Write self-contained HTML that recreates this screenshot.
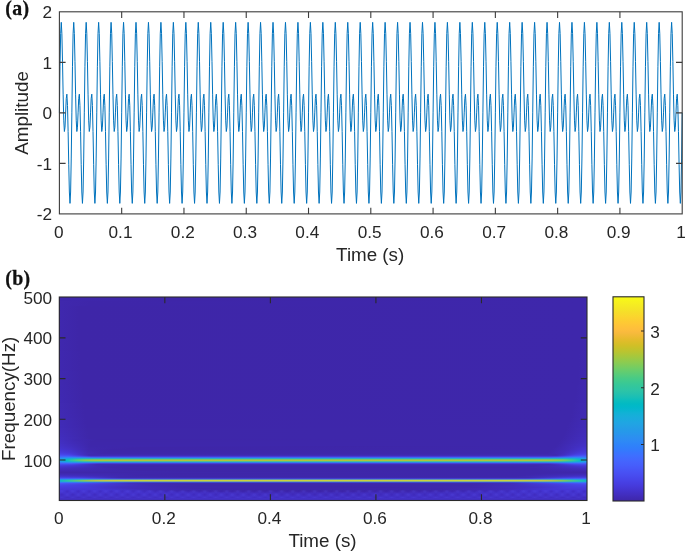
<!DOCTYPE html>
<html lang="en"><head><meta charset="utf-8"><title>Signal and time-frequency representation</title>
<style>html,body{margin:0;padding:0;background:#fff}svg{display:block}.t{font-family:"Liberation Sans",Arial,Helvetica,sans-serif;fill:#262626}.p{font-family:"Liberation Serif","Times New Roman",serif;font-weight:bold;fill:#111}</style></head><body>
<svg width="685" height="552" viewBox="0 0 685 552">
<rect width="685" height="552" fill="#fff"/>
<polyline points="59.40,112.85 60.02,66.72 60.65,33.70 61.27,22.32 61.89,33.70 62.51,61.42 63.14,94.17 63.76,120.16 64.38,131.53 65.01,127.19 65.63,112.85 66.25,98.51 66.87,94.17 67.50,105.54 68.12,131.53 68.74,164.28 69.36,192.00 69.99,203.38 70.61,192.00 71.23,158.98 71.86,112.85 72.48,66.72 73.10,33.70 73.72,22.32 74.35,33.70 74.97,61.42 75.59,94.17 76.22,120.16 76.84,131.53 77.46,127.19 78.08,112.85 78.71,98.51 79.33,94.17 79.95,105.54 80.58,131.53 81.20,164.28 81.82,192.00 82.44,203.38 83.07,192.00 83.69,158.98 84.31,112.85 84.93,66.72 85.56,33.70 86.18,22.32 86.80,33.70 87.43,61.42 88.05,94.17 88.67,120.16 89.29,131.53 89.92,127.19 90.54,112.85 91.16,98.51 91.79,94.17 92.41,105.54 93.03,131.53 93.65,164.28 94.28,192.00 94.90,203.38 95.52,192.00 96.15,158.98 96.77,112.85 97.39,66.72 98.01,33.70 98.64,22.32 99.26,33.70 99.88,61.42 100.50,94.17 101.13,120.16 101.75,131.53 102.37,127.19 103.00,112.85 103.62,98.51 104.24,94.17 104.86,105.54 105.49,131.53 106.11,164.28 106.73,192.00 107.36,203.38 107.98,192.00 108.60,158.98 109.22,112.85 109.85,66.72 110.47,33.70 111.09,22.32 111.72,33.70 112.34,61.42 112.96,94.17 113.58,120.16 114.21,131.53 114.83,127.19 115.45,112.85 116.07,98.51 116.70,94.17 117.32,105.54 117.94,131.53 118.57,164.28 119.19,192.00 119.81,203.38 120.43,192.00 121.06,158.98 121.68,112.85 122.30,66.72 122.93,33.70 123.55,22.32 124.17,33.70 124.79,61.42 125.42,94.17 126.04,120.16 126.66,131.53 127.29,127.19 127.91,112.85 128.53,98.51 129.15,94.17 129.78,105.54 130.40,131.53 131.02,164.28 131.64,192.00 132.27,203.38 132.89,192.00 133.51,158.98 134.14,112.85 134.76,66.72 135.38,33.70 136.00,22.32 136.63,33.70 137.25,61.42 137.87,94.17 138.50,120.16 139.12,131.53 139.74,127.19 140.36,112.85 140.99,98.51 141.61,94.17 142.23,105.54 142.86,131.53 143.48,164.28 144.10,192.00 144.72,203.38 145.35,192.00 145.97,158.98 146.59,112.85 147.21,66.72 147.84,33.70 148.46,22.32 149.08,33.70 149.71,61.42 150.33,94.17 150.95,120.16 151.57,131.53 152.20,127.19 152.82,112.85 153.44,98.51 154.07,94.17 154.69,105.54 155.31,131.53 155.93,164.28 156.56,192.00 157.18,203.38 157.80,192.00 158.43,158.98 159.05,112.85 159.67,66.72 160.29,33.70 160.92,22.32 161.54,33.70 162.16,61.42 162.78,94.17 163.41,120.16 164.03,131.53 164.65,127.19 165.28,112.85 165.90,98.51 166.52,94.17 167.14,105.54 167.77,131.53 168.39,164.28 169.01,192.00 169.64,203.38 170.26,192.00 170.88,158.98 171.50,112.85 172.13,66.72 172.75,33.70 173.37,22.32 174.00,33.70 174.62,61.42 175.24,94.17 175.86,120.16 176.49,131.53 177.11,127.19 177.73,112.85 178.35,98.51 178.98,94.17 179.60,105.54 180.22,131.53 180.85,164.28 181.47,192.00 182.09,203.38 182.71,192.00 183.34,158.98 183.96,112.85 184.58,66.72 185.21,33.70 185.83,22.32 186.45,33.70 187.07,61.42 187.70,94.17 188.32,120.16 188.94,131.53 189.57,127.19 190.19,112.85 190.81,98.51 191.43,94.17 192.06,105.54 192.68,131.53 193.30,164.28 193.92,192.00 194.55,203.38 195.17,192.00 195.79,158.98 196.42,112.85 197.04,66.72 197.66,33.70 198.28,22.32 198.91,33.70 199.53,61.42 200.15,94.17 200.78,120.16 201.40,131.53 202.02,127.19 202.64,112.85 203.27,98.51 203.89,94.17 204.51,105.54 205.14,131.53 205.76,164.28 206.38,192.00 207.00,203.38 207.63,192.00 208.25,158.98 208.87,112.85 209.49,66.72 210.12,33.70 210.74,22.32 211.36,33.70 211.99,61.42 212.61,94.17 213.23,120.16 213.85,131.53 214.48,127.19 215.10,112.85 215.72,98.51 216.35,94.17 216.97,105.54 217.59,131.53 218.21,164.28 218.84,192.00 219.46,203.38 220.08,192.00 220.71,158.98 221.33,112.85 221.95,66.72 222.57,33.70 223.20,22.32 223.82,33.70 224.44,61.42 225.06,94.17 225.69,120.16 226.31,131.53 226.93,127.19 227.56,112.85 228.18,98.51 228.80,94.17 229.42,105.54 230.05,131.53 230.67,164.28 231.29,192.00 231.92,203.38 232.54,192.00 233.16,158.98 233.78,112.85 234.41,66.72 235.03,33.70 235.65,22.32 236.28,33.70 236.90,61.42 237.52,94.17 238.14,120.16 238.77,131.53 239.39,127.19 240.01,112.85 240.63,98.51 241.26,94.17 241.88,105.54 242.50,131.53 243.13,164.28 243.75,192.00 244.37,203.38 244.99,192.00 245.62,158.98 246.24,112.85 246.86,66.72 247.49,33.70 248.11,22.32 248.73,33.70 249.35,61.42 249.98,94.17 250.60,120.16 251.22,131.53 251.85,127.19 252.47,112.85 253.09,98.51 253.71,94.17 254.34,105.54 254.96,131.53 255.58,164.28 256.20,192.00 256.83,203.38 257.45,192.00 258.07,158.98 258.70,112.85 259.32,66.72 259.94,33.70 260.56,22.32 261.19,33.70 261.81,61.42 262.43,94.17 263.06,120.16 263.68,131.53 264.30,127.19 264.92,112.85 265.55,98.51 266.17,94.17 266.79,105.54 267.42,131.53 268.04,164.28 268.66,192.00 269.28,203.38 269.91,192.00 270.53,158.98 271.15,112.85 271.77,66.72 272.40,33.70 273.02,22.32 273.64,33.70 274.27,61.42 274.89,94.17 275.51,120.16 276.13,131.53 276.76,127.19 277.38,112.85 278.00,98.51 278.63,94.17 279.25,105.54 279.87,131.53 280.49,164.28 281.12,192.00 281.74,203.38 282.36,192.00 282.99,158.98 283.61,112.85 284.23,66.72 284.85,33.70 285.48,22.32 286.10,33.70 286.72,61.42 287.34,94.17 287.97,120.16 288.59,131.53 289.21,127.19 289.84,112.85 290.46,98.51 291.08,94.17 291.70,105.54 292.33,131.53 292.95,164.28 293.57,192.00 294.20,203.38 294.82,192.00 295.44,158.98 296.06,112.85 296.69,66.72 297.31,33.70 297.93,22.32 298.56,33.70 299.18,61.42 299.80,94.17 300.42,120.16 301.05,131.53 301.67,127.19 302.29,112.85 302.91,98.51 303.54,94.17 304.16,105.54 304.78,131.53 305.41,164.28 306.03,192.00 306.65,203.38 307.27,192.00 307.90,158.98 308.52,112.85 309.14,66.72 309.77,33.70 310.39,22.32 311.01,33.70 311.63,61.42 312.26,94.17 312.88,120.16 313.50,131.53 314.13,127.19 314.75,112.85 315.37,98.51 315.99,94.17 316.62,105.54 317.24,131.53 317.86,164.28 318.48,192.00 319.11,203.38 319.73,192.00 320.35,158.98 320.98,112.85 321.60,66.72 322.22,33.70 322.84,22.32 323.47,33.70 324.09,61.42 324.71,94.17 325.34,120.16 325.96,131.53 326.58,127.19 327.20,112.85 327.83,98.51 328.45,94.17 329.07,105.54 329.70,131.53 330.32,164.28 330.94,192.00 331.56,203.38 332.19,192.00 332.81,158.98 333.43,112.85 334.05,66.72 334.68,33.70 335.30,22.32 335.92,33.70 336.55,61.42 337.17,94.17 337.79,120.16 338.41,131.53 339.04,127.19 339.66,112.85 340.28,98.51 340.91,94.17 341.53,105.54 342.15,131.53 342.77,164.28 343.40,192.00 344.02,203.38 344.64,192.00 345.27,158.98 345.89,112.85 346.51,66.72 347.13,33.70 347.76,22.32 348.38,33.70 349.00,61.42 349.62,94.17 350.25,120.16 350.87,131.53 351.49,127.19 352.12,112.85 352.74,98.51 353.36,94.17 353.98,105.54 354.61,131.53 355.23,164.28 355.85,192.00 356.48,203.38 357.10,192.00 357.72,158.98 358.34,112.85 358.97,66.72 359.59,33.70 360.21,22.32 360.84,33.70 361.46,61.42 362.08,94.17 362.70,120.16 363.33,131.53 363.95,127.19 364.57,112.85 365.19,98.51 365.82,94.17 366.44,105.54 367.06,131.53 367.69,164.28 368.31,192.00 368.93,203.38 369.55,192.00 370.18,158.98 370.80,112.85 371.42,66.72 372.05,33.70 372.67,22.32 373.29,33.70 373.91,61.42 374.54,94.17 375.16,120.16 375.78,131.53 376.41,127.19 377.03,112.85 377.65,98.51 378.27,94.17 378.90,105.54 379.52,131.53 380.14,164.28 380.76,192.00 381.39,203.38 382.01,192.00 382.63,158.98 383.26,112.85 383.88,66.72 384.50,33.70 385.12,22.32 385.75,33.70 386.37,61.42 386.99,94.17 387.62,120.16 388.24,131.53 388.86,127.19 389.48,112.85 390.11,98.51 390.73,94.17 391.35,105.54 391.98,131.53 392.60,164.28 393.22,192.00 393.84,203.38 394.47,192.00 395.09,158.98 395.71,112.85 396.33,66.72 396.96,33.70 397.58,22.32 398.20,33.70 398.83,61.42 399.45,94.17 400.07,120.16 400.69,131.53 401.32,127.19 401.94,112.85 402.56,98.51 403.19,94.17 403.81,105.54 404.43,131.53 405.05,164.28 405.68,192.00 406.30,203.38 406.92,192.00 407.55,158.98 408.17,112.85 408.79,66.72 409.41,33.70 410.04,22.32 410.66,33.70 411.28,61.42 411.90,94.17 412.53,120.16 413.15,131.53 413.77,127.19 414.40,112.85 415.02,98.51 415.64,94.17 416.26,105.54 416.89,131.53 417.51,164.28 418.13,192.00 418.76,203.38 419.38,192.00 420.00,158.98 420.62,112.85 421.25,66.72 421.87,33.70 422.49,22.32 423.12,33.70 423.74,61.42 424.36,94.17 424.98,120.16 425.61,131.53 426.23,127.19 426.85,112.85 427.47,98.51 428.10,94.17 428.72,105.54 429.34,131.53 429.97,164.28 430.59,192.00 431.21,203.38 431.83,192.00 432.46,158.98 433.08,112.85 433.70,66.72 434.33,33.70 434.95,22.32 435.57,33.70 436.19,61.42 436.82,94.17 437.44,120.16 438.06,131.53 438.69,127.19 439.31,112.85 439.93,98.51 440.55,94.17 441.18,105.54 441.80,131.53 442.42,164.28 443.04,192.00 443.67,203.38 444.29,192.00 444.91,158.98 445.54,112.85 446.16,66.72 446.78,33.70 447.40,22.32 448.03,33.70 448.65,61.42 449.27,94.17 449.90,120.16 450.52,131.53 451.14,127.19 451.76,112.85 452.39,98.51 453.01,94.17 453.63,105.54 454.26,131.53 454.88,164.28 455.50,192.00 456.12,203.38 456.75,192.00 457.37,158.98 457.99,112.85 458.61,66.72 459.24,33.70 459.86,22.32 460.48,33.70 461.11,61.42 461.73,94.17 462.35,120.16 462.97,131.53 463.60,127.19 464.22,112.85 464.84,98.51 465.47,94.17 466.09,105.54 466.71,131.53 467.33,164.28 467.96,192.00 468.58,203.38 469.20,192.00 469.83,158.98 470.45,112.85 471.07,66.72 471.69,33.70 472.32,22.32 472.94,33.70 473.56,61.42 474.18,94.17 474.81,120.16 475.43,131.53 476.05,127.19 476.68,112.85 477.30,98.51 477.92,94.17 478.54,105.54 479.17,131.53 479.79,164.28 480.41,192.00 481.04,203.38 481.66,192.00 482.28,158.98 482.90,112.85 483.53,66.72 484.15,33.70 484.77,22.32 485.40,33.70 486.02,61.42 486.64,94.17 487.26,120.16 487.89,131.53 488.51,127.19 489.13,112.85 489.75,98.51 490.38,94.17 491.00,105.54 491.62,131.53 492.25,164.28 492.87,192.00 493.49,203.38 494.11,192.00 494.74,158.98 495.36,112.85 495.98,66.72 496.61,33.70 497.23,22.32 497.85,33.70 498.47,61.42 499.10,94.17 499.72,120.16 500.34,131.53 500.97,127.19 501.59,112.85 502.21,98.51 502.83,94.17 503.46,105.54 504.08,131.53 504.70,164.28 505.32,192.00 505.95,203.38 506.57,192.00 507.19,158.98 507.82,112.85 508.44,66.72 509.06,33.70 509.68,22.32 510.31,33.70 510.93,61.42 511.55,94.17 512.18,120.16 512.80,131.53 513.42,127.19 514.04,112.85 514.67,98.51 515.29,94.17 515.91,105.54 516.54,131.53 517.16,164.28 517.78,192.00 518.40,203.38 519.03,192.00 519.65,158.98 520.27,112.85 520.89,66.72 521.52,33.70 522.14,22.32 522.76,33.70 523.39,61.42 524.01,94.17 524.63,120.16 525.25,131.53 525.88,127.19 526.50,112.85 527.12,98.51 527.75,94.17 528.37,105.54 528.99,131.53 529.61,164.28 530.24,192.00 530.86,203.38 531.48,192.00 532.11,158.98 532.73,112.85 533.35,66.72 533.97,33.70 534.60,22.32 535.22,33.70 535.84,61.42 536.46,94.17 537.09,120.16 537.71,131.53 538.33,127.19 538.96,112.85 539.58,98.51 540.20,94.17 540.82,105.54 541.45,131.53 542.07,164.28 542.69,192.00 543.32,203.38 543.94,192.00 544.56,158.98 545.18,112.85 545.81,66.72 546.43,33.70 547.05,22.32 547.68,33.70 548.30,61.42 548.92,94.17 549.54,120.16 550.17,131.53 550.79,127.19 551.41,112.85 552.03,98.51 552.66,94.17 553.28,105.54 553.90,131.53 554.53,164.28 555.15,192.00 555.77,203.38 556.39,192.00 557.02,158.98 557.64,112.85 558.26,66.72 558.89,33.70 559.51,22.32 560.13,33.70 560.75,61.42 561.38,94.17 562.00,120.16 562.62,131.53 563.25,127.19 563.87,112.85 564.49,98.51 565.11,94.17 565.74,105.54 566.36,131.53 566.98,164.28 567.60,192.00 568.23,203.38 568.85,192.00 569.47,158.98 570.10,112.85 570.72,66.72 571.34,33.70 571.96,22.32 572.59,33.70 573.21,61.42 573.83,94.17 574.46,120.16 575.08,131.53 575.70,127.19 576.32,112.85 576.95,98.51 577.57,94.17 578.19,105.54 578.82,131.53 579.44,164.28 580.06,192.00 580.68,203.38 581.31,192.00 581.93,158.98 582.55,112.85 583.17,66.72 583.80,33.70 584.42,22.32 585.04,33.70 585.67,61.42 586.29,94.17 586.91,120.16 587.53,131.53 588.16,127.19 588.78,112.85 589.40,98.51 590.03,94.17 590.65,105.54 591.27,131.53 591.89,164.28 592.52,192.00 593.14,203.38 593.76,192.00 594.39,158.98 595.01,112.85 595.63,66.72 596.25,33.70 596.88,22.32 597.50,33.70 598.12,61.42 598.74,94.17 599.37,120.16 599.99,131.53 600.61,127.19 601.24,112.85 601.86,98.51 602.48,94.17 603.10,105.54 603.73,131.53 604.35,164.28 604.97,192.00 605.60,203.38 606.22,192.00 606.84,158.98 607.46,112.85 608.09,66.72 608.71,33.70 609.33,22.32 609.96,33.70 610.58,61.42 611.20,94.17 611.82,120.16 612.45,131.53 613.07,127.19 613.69,112.85 614.31,98.51 614.94,94.17 615.56,105.54 616.18,131.53 616.81,164.28 617.43,192.00 618.05,203.38 618.67,192.00 619.30,158.98 619.92,112.85 620.54,66.72 621.17,33.70 621.79,22.32 622.41,33.70 623.03,61.42 623.66,94.17 624.28,120.16 624.90,131.53 625.53,127.19 626.15,112.85 626.77,98.51 627.39,94.17 628.02,105.54 628.64,131.53 629.26,164.28 629.88,192.00 630.51,203.38 631.13,192.00 631.75,158.98 632.38,112.85 633.00,66.72 633.62,33.70 634.24,22.32 634.87,33.70 635.49,61.42 636.11,94.17 636.74,120.16 637.36,131.53 637.98,127.19 638.60,112.85 639.23,98.51 639.85,94.17 640.47,105.54 641.10,131.53 641.72,164.28 642.34,192.00 642.96,203.38 643.59,192.00 644.21,158.98 644.83,112.85 645.45,66.72 646.08,33.70 646.70,22.32 647.32,33.70 647.95,61.42 648.57,94.17 649.19,120.16 649.81,131.53 650.44,127.19 651.06,112.85 651.68,98.51 652.31,94.17 652.93,105.54 653.55,131.53 654.17,164.28 654.80,192.00 655.42,203.38 656.04,192.00 656.67,158.98 657.29,112.85 657.91,66.72 658.53,33.70 659.16,22.32 659.78,33.70 660.40,61.42 661.02,94.17 661.65,120.16 662.27,131.53 662.89,127.19 663.52,112.85 664.14,98.51 664.76,94.17 665.38,105.54 666.01,131.53 666.63,164.28 667.25,192.00 667.88,203.38 668.50,192.00 669.12,158.98 669.74,112.85 670.37,66.72 670.99,33.70 671.61,22.32 672.24,33.70 672.86,61.42 673.48,94.17 674.10,120.16 674.73,131.53 675.35,127.19 675.97,112.85 676.59,98.51 677.22,94.17 677.84,105.54 678.46,131.53 679.09,164.28 679.71,192.00 680.33,203.38 680.95,192.00 681.58,158.98 682.20,112.85" fill="none" stroke="#0072BD" stroke-width="1.0" stroke-linejoin="miter" stroke-miterlimit="3"/>
<defs><linearGradient id="g0"><stop offset="0.0000" stop-color="#3e27ac"/><stop offset="0.2106" stop-color="#3e26a8"/><stop offset="0.9924" stop-color="#3e27ab"/><stop offset="1.0000" stop-color="#3e27ac"/></linearGradient><linearGradient id="g1"><stop offset="0.0000" stop-color="#3f28ad"/><stop offset="0.0607" stop-color="#3e26a9"/><stop offset="0.9886" stop-color="#3e27ab"/><stop offset="1.0000" stop-color="#3f28ad"/></linearGradient><linearGradient id="g2"><stop offset="0.0000" stop-color="#3f28ae"/><stop offset="0.0380" stop-color="#3e26a8"/><stop offset="0.9886" stop-color="#3e27ab"/><stop offset="1.0000" stop-color="#3f28ae"/></linearGradient><linearGradient id="g3"><stop offset="0.0000" stop-color="#3f28af"/><stop offset="0.0417" stop-color="#3e26a8"/><stop offset="0.9848" stop-color="#3e27ab"/><stop offset="1.0000" stop-color="#3f28af"/></linearGradient><linearGradient id="g4"><stop offset="0.0000" stop-color="#3f29b0"/><stop offset="0.0436" stop-color="#3e26a8"/><stop offset="0.9829" stop-color="#3e27ab"/><stop offset="1.0000" stop-color="#3f29b0"/></linearGradient><linearGradient id="g5"><stop offset="0.0000" stop-color="#3f29b1"/><stop offset="0.0455" stop-color="#3e26a8"/><stop offset="0.9791" stop-color="#3e27ab"/><stop offset="1.0000" stop-color="#3f29b1"/></linearGradient><linearGradient id="g6"><stop offset="0.0000" stop-color="#3f29b2"/><stop offset="0.0455" stop-color="#3e26a8"/><stop offset="0.9772" stop-color="#3e27ab"/><stop offset="1.0000" stop-color="#3f29b2"/></linearGradient><linearGradient id="g7"><stop offset="0.0000" stop-color="#402ab3"/><stop offset="0.0474" stop-color="#3e26a8"/><stop offset="0.9734" stop-color="#3e27ab"/><stop offset="1.0000" stop-color="#402ab3"/></linearGradient><linearGradient id="g8"><stop offset="0.0000" stop-color="#402ab4"/><stop offset="0.0474" stop-color="#3e26a9"/><stop offset="0.9715" stop-color="#3e27ab"/><stop offset="1.0000" stop-color="#402ab4"/></linearGradient><linearGradient id="g9"><stop offset="0.0000" stop-color="#402ab5"/><stop offset="0.0493" stop-color="#3e26a9"/><stop offset="0.9696" stop-color="#3e27ab"/><stop offset="1.0000" stop-color="#402ab5"/></linearGradient><linearGradient id="g10"><stop offset="0.0000" stop-color="#402bb6"/><stop offset="0.0512" stop-color="#3e26a9"/><stop offset="0.9677" stop-color="#3e27ab"/><stop offset="1.0000" stop-color="#402bb6"/></linearGradient><linearGradient id="g11"><stop offset="0.0000" stop-color="#402bb7"/><stop offset="0.0512" stop-color="#3e26a9"/><stop offset="0.9639" stop-color="#3e27ab"/><stop offset="1.0000" stop-color="#402bb7"/></linearGradient><linearGradient id="g12"><stop offset="0.0000" stop-color="#402bb8"/><stop offset="0.0531" stop-color="#3e26a9"/><stop offset="0.9620" stop-color="#3e27ab"/><stop offset="1.0000" stop-color="#402bb8"/></linearGradient><linearGradient id="g13"><stop offset="0.0000" stop-color="#412cb9"/><stop offset="0.0531" stop-color="#3e27a9"/><stop offset="0.9602" stop-color="#3e27ab"/><stop offset="1.0000" stop-color="#412cb9"/></linearGradient><linearGradient id="g14"><stop offset="0.0000" stop-color="#412cba"/><stop offset="0.0550" stop-color="#3e27a9"/><stop offset="0.9583" stop-color="#3e27ab"/><stop offset="1.0000" stop-color="#412cba"/></linearGradient><linearGradient id="g15"><stop offset="0.0000" stop-color="#412dbb"/><stop offset="0.0550" stop-color="#3e27a9"/><stop offset="0.9564" stop-color="#3e27ab"/><stop offset="1.0000" stop-color="#412dbb"/></linearGradient><linearGradient id="g16"><stop offset="0.0000" stop-color="#412dbd"/><stop offset="0.0550" stop-color="#3e27a9"/><stop offset="0.9545" stop-color="#3e27ab"/><stop offset="1.0000" stop-color="#412dbd"/></linearGradient><linearGradient id="g17"><stop offset="0.0000" stop-color="#422ebe"/><stop offset="0.0569" stop-color="#3e27a9"/><stop offset="0.9526" stop-color="#3e27ab"/><stop offset="1.0000" stop-color="#422ebe"/></linearGradient><linearGradient id="g18"><stop offset="0.0000" stop-color="#422ebf"/><stop offset="0.0342" stop-color="#3f29b1"/><stop offset="0.0721" stop-color="#3e26a9"/><stop offset="0.9507" stop-color="#3e27ab"/><stop offset="1.0000" stop-color="#422ebf"/></linearGradient><linearGradient id="g19"><stop offset="0.0000" stop-color="#422fc1"/><stop offset="0.0323" stop-color="#3f29b2"/><stop offset="0.0664" stop-color="#3e27a9"/><stop offset="0.9488" stop-color="#3e27ab"/><stop offset="1.0000" stop-color="#422fc1"/></linearGradient><linearGradient id="g20"><stop offset="0.0000" stop-color="#422fc2"/><stop offset="0.0304" stop-color="#402ab4"/><stop offset="0.0626" stop-color="#3e27a9"/><stop offset="0.9469" stop-color="#3e27ab"/><stop offset="1.0000" stop-color="#422fc2"/></linearGradient><linearGradient id="g21"><stop offset="0.0000" stop-color="#4230c3"/><stop offset="0.0285" stop-color="#402bb6"/><stop offset="0.0607" stop-color="#3e27aa"/><stop offset="0.9450" stop-color="#3e27ab"/><stop offset="1.0000" stop-color="#4230c3"/></linearGradient><linearGradient id="g22"><stop offset="0.0000" stop-color="#4230c4"/><stop offset="0.0285" stop-color="#402bb7"/><stop offset="0.0607" stop-color="#3e27aa"/><stop offset="0.9450" stop-color="#3e27ab"/><stop offset="0.9981" stop-color="#4230c4"/><stop offset="1.0000" stop-color="#4230c4"/></linearGradient><linearGradient id="g23"><stop offset="0.0000" stop-color="#4331c6"/><stop offset="0.0266" stop-color="#412cba"/><stop offset="0.0588" stop-color="#3e27aa"/><stop offset="0.9431" stop-color="#3e27ab"/><stop offset="0.9791" stop-color="#412ebd"/><stop offset="1.0000" stop-color="#4331c6"/></linearGradient><linearGradient id="g24"><stop offset="0.0000" stop-color="#4331c8"/><stop offset="0.0247" stop-color="#412dbc"/><stop offset="0.0588" stop-color="#3e27ab"/><stop offset="0.9412" stop-color="#3e27ab"/><stop offset="0.9753" stop-color="#412dbc"/><stop offset="1.0000" stop-color="#4331c8"/></linearGradient><linearGradient id="g25"><stop offset="0.0000" stop-color="#4332ca"/><stop offset="0.0247" stop-color="#412ebe"/><stop offset="0.0588" stop-color="#3e27ab"/><stop offset="0.5541" stop-color="#3e26a8"/><stop offset="0.9412" stop-color="#3e27ab"/><stop offset="0.9753" stop-color="#412ebe"/><stop offset="1.0000" stop-color="#4332ca"/></linearGradient><linearGradient id="g26"><stop offset="0.0000" stop-color="#4433cc"/><stop offset="0.0228" stop-color="#422fc1"/><stop offset="0.0569" stop-color="#3e28ac"/><stop offset="0.1575" stop-color="#3e26a8"/><stop offset="0.9374" stop-color="#3e27ab"/><stop offset="0.9677" stop-color="#412cba"/><stop offset="0.9962" stop-color="#4433cc"/><stop offset="1.0000" stop-color="#4433cc"/></linearGradient><linearGradient id="g27"><stop offset="0.0000" stop-color="#4434ce"/><stop offset="0.0209" stop-color="#4330c5"/><stop offset="0.0569" stop-color="#3f28ad"/><stop offset="0.1309" stop-color="#3e26a8"/><stop offset="0.9355" stop-color="#3e27ab"/><stop offset="0.9658" stop-color="#412cba"/><stop offset="0.9943" stop-color="#4434ce"/><stop offset="1.0000" stop-color="#4434ce"/></linearGradient><linearGradient id="g28"><stop offset="0.0000" stop-color="#4435d2"/><stop offset="0.0209" stop-color="#4331c8"/><stop offset="0.0550" stop-color="#3f28ae"/><stop offset="0.1044" stop-color="#3e26a8"/><stop offset="0.9336" stop-color="#3e27ab"/><stop offset="0.9639" stop-color="#412cba"/><stop offset="0.9943" stop-color="#4435d1"/><stop offset="1.0000" stop-color="#4435d2"/></linearGradient><linearGradient id="g29"><stop offset="0.0000" stop-color="#4537d5"/><stop offset="0.0209" stop-color="#4433cb"/><stop offset="0.0550" stop-color="#3f28af"/><stop offset="0.0968" stop-color="#3e26a8"/><stop offset="0.9317" stop-color="#3e27ab"/><stop offset="0.9602" stop-color="#412cb9"/><stop offset="0.9924" stop-color="#4536d4"/><stop offset="1.0000" stop-color="#4537d5"/></linearGradient><linearGradient id="g30"><stop offset="0.0000" stop-color="#4639d9"/><stop offset="0.0190" stop-color="#4435d0"/><stop offset="0.0550" stop-color="#3f29b0"/><stop offset="0.0930" stop-color="#3e26a9"/><stop offset="0.9298" stop-color="#3e27ab"/><stop offset="0.9583" stop-color="#412cba"/><stop offset="0.9905" stop-color="#4538d7"/><stop offset="1.0000" stop-color="#4639d9"/></linearGradient><linearGradient id="g31"><stop offset="0.0000" stop-color="#463cde"/><stop offset="0.0190" stop-color="#4537d5"/><stop offset="0.0531" stop-color="#402ab3"/><stop offset="0.0854" stop-color="#3e27a9"/><stop offset="0.9279" stop-color="#3e27ab"/><stop offset="0.9564" stop-color="#412cba"/><stop offset="0.9886" stop-color="#463adb"/><stop offset="1.0000" stop-color="#463cde"/></linearGradient><linearGradient id="g32"><stop offset="0.0000" stop-color="#4741e4"/><stop offset="0.0190" stop-color="#463adc"/><stop offset="0.0512" stop-color="#402bb6"/><stop offset="0.0835" stop-color="#3e27aa"/><stop offset="0.9241" stop-color="#3e27ac"/><stop offset="0.9507" stop-color="#402bb7"/><stop offset="0.9867" stop-color="#463de0"/><stop offset="1.0000" stop-color="#4741e4"/></linearGradient><linearGradient id="g33"><stop offset="0.0000" stop-color="#4747eb"/><stop offset="0.0190" stop-color="#4741e4"/><stop offset="0.0398" stop-color="#4331c6"/><stop offset="0.0569" stop-color="#3f29b1"/><stop offset="0.2125" stop-color="#3f28ad"/><stop offset="0.9412" stop-color="#3f29af"/><stop offset="0.9583" stop-color="#4230c3"/><stop offset="0.9791" stop-color="#473fe2"/><stop offset="0.9981" stop-color="#4748eb"/><stop offset="1.0000" stop-color="#4747eb"/></linearGradient><linearGradient id="g34"><stop offset="0.0000" stop-color="#4752f4"/><stop offset="0.0171" stop-color="#474ef1"/><stop offset="0.0342" stop-color="#463edf"/><stop offset="0.0569" stop-color="#402bb7"/><stop offset="0.0683" stop-color="#402bb6"/><stop offset="0.1120" stop-color="#412cba"/><stop offset="0.9260" stop-color="#412cb8"/><stop offset="0.9412" stop-color="#402bb6"/><stop offset="0.9583" stop-color="#4436d1"/><stop offset="0.9753" stop-color="#4748eb"/><stop offset="0.9943" stop-color="#4753f4"/><stop offset="1.0000" stop-color="#4752f4"/></linearGradient><linearGradient id="g35"><stop offset="0.0000" stop-color="#4462fb"/><stop offset="0.0171" stop-color="#4165fa"/><stop offset="0.0398" stop-color="#4550ee"/><stop offset="0.0607" stop-color="#453ed8"/><stop offset="0.9260" stop-color="#453cd7"/><stop offset="0.9431" stop-color="#4540db"/><stop offset="0.9696" stop-color="#435bf6"/><stop offset="0.9867" stop-color="#4166fb"/><stop offset="1.0000" stop-color="#4462fb"/></linearGradient><linearGradient id="g36"><stop offset="0.0000" stop-color="#3778fb"/><stop offset="0.0171" stop-color="#2f87f4"/><stop offset="0.0361" stop-color="#3282f3"/><stop offset="0.0702" stop-color="#3a6df1"/><stop offset="0.9298" stop-color="#3a6df1"/><stop offset="0.9772" stop-color="#2f87f3"/><stop offset="0.9943" stop-color="#337ff8"/><stop offset="1.0000" stop-color="#3778fb"/></linearGradient><linearGradient id="g37"><stop offset="0.0000" stop-color="#2b8ff0"/><stop offset="0.0171" stop-color="#17a8db"/><stop offset="0.0380" stop-color="#21b1c8"/><stop offset="0.0721" stop-color="#2bacc7"/><stop offset="0.9279" stop-color="#2bacc7"/><stop offset="0.9620" stop-color="#21b1c8"/><stop offset="0.9829" stop-color="#17a8db"/><stop offset="1.0000" stop-color="#2b8ff0"/></linearGradient><linearGradient id="g38"><stop offset="0.0000" stop-color="#239fe6"/><stop offset="0.0076" stop-color="#12afd7"/><stop offset="0.0114" stop-color="#0ab5ce"/><stop offset="0.0171" stop-color="#13bcbe"/><stop offset="0.0361" stop-color="#46c88a"/><stop offset="0.0493" stop-color="#65c871"/><stop offset="0.0645" stop-color="#76c665"/><stop offset="0.0968" stop-color="#7dc561"/><stop offset="0.9241" stop-color="#7bc562"/><stop offset="0.9431" stop-color="#6fc769"/><stop offset="0.9564" stop-color="#5ac97a"/><stop offset="0.9753" stop-color="#26c3a8"/><stop offset="0.9867" stop-color="#0bb8c8"/><stop offset="0.9905" stop-color="#0cb2d3"/><stop offset="0.9981" stop-color="#20a4e3"/><stop offset="1.0000" stop-color="#239fe6"/></linearGradient><linearGradient id="g39"><stop offset="0.0000" stop-color="#21a3e3"/><stop offset="0.0057" stop-color="#14afd8"/><stop offset="0.0095" stop-color="#05b6cd"/><stop offset="0.0114" stop-color="#03b9c7"/><stop offset="0.0152" stop-color="#10bdbb"/><stop offset="0.0209" stop-color="#28c3a9"/><stop offset="0.0342" stop-color="#54cb7d"/><stop offset="0.0474" stop-color="#81cb58"/><stop offset="0.0607" stop-color="#9dc844"/><stop offset="0.0797" stop-color="#adc53b"/><stop offset="0.1366" stop-color="#b2c439"/><stop offset="0.9127" stop-color="#afc53a"/><stop offset="0.9336" stop-color="#a4c740"/><stop offset="0.9469" stop-color="#8fc94e"/><stop offset="0.9602" stop-color="#69cc6b"/><stop offset="0.9753" stop-color="#33c69c"/><stop offset="0.9829" stop-color="#19bfb5"/><stop offset="0.9867" stop-color="#08bbc1"/><stop offset="0.9886" stop-color="#03b9c7"/><stop offset="0.9924" stop-color="#0cb3d3"/><stop offset="0.9981" stop-color="#1ea7e1"/><stop offset="1.0000" stop-color="#21a3e3"/></linearGradient><linearGradient id="g40"><stop offset="0.0000" stop-color="#2797eb"/><stop offset="0.0133" stop-color="#13aed5"/><stop offset="0.0266" stop-color="#1fbabc"/><stop offset="0.0474" stop-color="#3ec09d"/><stop offset="0.0683" stop-color="#4ebe91"/><stop offset="0.1271" stop-color="#52bc91"/><stop offset="0.9260" stop-color="#50be91"/><stop offset="0.9488" stop-color="#42c099"/><stop offset="0.9677" stop-color="#27bdb2"/><stop offset="0.9848" stop-color="#12b0d2"/><stop offset="0.9905" stop-color="#18a8dd"/><stop offset="1.0000" stop-color="#2797eb"/></linearGradient><linearGradient id="g41"><stop offset="0.0000" stop-color="#347ef8"/><stop offset="0.0190" stop-color="#2991ed"/><stop offset="0.0380" stop-color="#2693e7"/><stop offset="0.0892" stop-color="#2f82e7"/><stop offset="0.9203" stop-color="#2f83e6"/><stop offset="0.9696" stop-color="#2594e9"/><stop offset="0.9886" stop-color="#2d8bf1"/><stop offset="1.0000" stop-color="#347ef8"/></linearGradient><linearGradient id="g42"><stop offset="0.0000" stop-color="#4360f9"/><stop offset="0.0209" stop-color="#4064f8"/><stop offset="0.0493" stop-color="#4351eb"/><stop offset="0.0759" stop-color="#4341d8"/><stop offset="0.8178" stop-color="#4441da"/><stop offset="0.9279" stop-color="#4342d9"/><stop offset="0.9677" stop-color="#415ff5"/><stop offset="0.9886" stop-color="#4065f9"/><stop offset="1.0000" stop-color="#4360f9"/></linearGradient><linearGradient id="g43"><stop offset="0.0000" stop-color="#474aed"/><stop offset="0.0247" stop-color="#4745e7"/><stop offset="0.0493" stop-color="#4434ce"/><stop offset="0.0721" stop-color="#402ab5"/><stop offset="0.9279" stop-color="#402ab5"/><stop offset="0.9545" stop-color="#4537d3"/><stop offset="0.9772" stop-color="#4746e8"/><stop offset="1.0000" stop-color="#474aed"/></linearGradient><linearGradient id="g44"><stop offset="0.0000" stop-color="#463ddf"/><stop offset="0.0266" stop-color="#4537d6"/><stop offset="0.0702" stop-color="#402ab3"/><stop offset="0.1252" stop-color="#3e27aa"/><stop offset="0.9013" stop-color="#3e28ac"/><stop offset="0.9374" stop-color="#402bb8"/><stop offset="0.9829" stop-color="#463bdb"/><stop offset="1.0000" stop-color="#463ddf"/></linearGradient><linearGradient id="g45"><stop offset="0.0000" stop-color="#4536d3"/><stop offset="0.0304" stop-color="#4332c9"/><stop offset="0.0835" stop-color="#3f28ae"/><stop offset="0.1556" stop-color="#3e26a8"/><stop offset="0.9013" stop-color="#3e27ab"/><stop offset="0.9469" stop-color="#412dbb"/><stop offset="0.9905" stop-color="#4435d2"/><stop offset="1.0000" stop-color="#4536d3"/></linearGradient><linearGradient id="g46"><stop offset="0.0000" stop-color="#4332c9"/><stop offset="0.0417" stop-color="#412dbd"/><stop offset="0.0968" stop-color="#3e27ab"/><stop offset="0.8596" stop-color="#3e26a9"/><stop offset="0.9241" stop-color="#3f29b0"/><stop offset="0.9943" stop-color="#4332c9"/><stop offset="1.0000" stop-color="#4332c9"/></linearGradient><linearGradient id="g47"><stop offset="0.0000" stop-color="#422fc1"/><stop offset="0.0607" stop-color="#402ab3"/><stop offset="0.1252" stop-color="#3e27a9"/><stop offset="0.9032" stop-color="#3e27ab"/><stop offset="1.0000" stop-color="#422fc1"/></linearGradient><linearGradient id="g48"><stop offset="0.0000" stop-color="#412cba"/><stop offset="0.1271" stop-color="#3e27a9"/><stop offset="0.9051" stop-color="#3e27ab"/><stop offset="1.0000" stop-color="#412cba"/></linearGradient><linearGradient id="g49"><stop offset="0.0000" stop-color="#402ab4"/><stop offset="0.1594" stop-color="#3e26a8"/><stop offset="0.9089" stop-color="#3e27ab"/><stop offset="1.0000" stop-color="#402ab4"/></linearGradient><linearGradient id="g50"><stop offset="0.0000" stop-color="#3f28ae"/><stop offset="0.2770" stop-color="#3e26a8"/><stop offset="0.9146" stop-color="#3e27ab"/><stop offset="1.0000" stop-color="#3f28ae"/></linearGradient><linearGradient id="g51"><stop offset="0.0000" stop-color="#3e27ab"/><stop offset="0.1044" stop-color="#3e27aa"/><stop offset="0.9089" stop-color="#3e27ab"/><stop offset="1.0000" stop-color="#3e27ab"/></linearGradient><linearGradient id="g52"><stop offset="0.0000" stop-color="#3f29b0"/><stop offset="0.2315" stop-color="#3e26a8"/><stop offset="0.9051" stop-color="#3e27ab"/><stop offset="1.0000" stop-color="#3f29b0"/></linearGradient><linearGradient id="g53"><stop offset="0.0000" stop-color="#402bb8"/><stop offset="0.1613" stop-color="#3e26a9"/><stop offset="0.8899" stop-color="#3e27ab"/><stop offset="1.0000" stop-color="#402bb8"/></linearGradient><linearGradient id="g54"><stop offset="0.0000" stop-color="#422fc2"/><stop offset="0.0740" stop-color="#402ab4"/><stop offset="0.1556" stop-color="#3e27a9"/><stop offset="0.8767" stop-color="#3e27ab"/><stop offset="1.0000" stop-color="#422fc2"/></linearGradient><linearGradient id="g55"><stop offset="0.0000" stop-color="#4435cf"/><stop offset="0.0474" stop-color="#4330c5"/><stop offset="0.1176" stop-color="#3f28ae"/><stop offset="0.2353" stop-color="#3e26a9"/><stop offset="0.8634" stop-color="#3e27ab"/><stop offset="0.9279" stop-color="#412dbb"/><stop offset="0.9886" stop-color="#4434cf"/><stop offset="1.0000" stop-color="#4435cf"/></linearGradient><linearGradient id="g56"><stop offset="0.0000" stop-color="#4641e2"/><stop offset="0.0398" stop-color="#463bda"/><stop offset="0.1139" stop-color="#3f29b0"/><stop offset="0.7723" stop-color="#3f28ad"/><stop offset="0.8880" stop-color="#3f29b1"/><stop offset="0.9696" stop-color="#463ede"/><stop offset="1.0000" stop-color="#4641e2"/></linearGradient><linearGradient id="g57"><stop offset="0.0000" stop-color="#415ef5"/><stop offset="0.0361" stop-color="#3f60f1"/><stop offset="0.0835" stop-color="#414ddf"/><stop offset="0.1233" stop-color="#4040ce"/><stop offset="0.8387" stop-color="#413ed0"/><stop offset="0.8861" stop-color="#4041d0"/><stop offset="0.9564" stop-color="#3f5eef"/><stop offset="0.9924" stop-color="#4160f5"/><stop offset="1.0000" stop-color="#415ef5"/></linearGradient><linearGradient id="g58"><stop offset="0.0000" stop-color="#2791ea"/><stop offset="0.0152" stop-color="#269cde"/><stop offset="0.0380" stop-color="#33a3c9"/><stop offset="0.0683" stop-color="#4fa0b4"/><stop offset="0.1044" stop-color="#5f97b1"/><stop offset="0.1954" stop-color="#6291b1"/><stop offset="0.8786" stop-color="#6294b0"/><stop offset="0.9203" stop-color="#569db1"/><stop offset="0.9469" stop-color="#42a3bc"/><stop offset="0.9753" stop-color="#29a0d5"/><stop offset="0.9981" stop-color="#2693e9"/><stop offset="1.0000" stop-color="#2791ea"/></linearGradient><linearGradient id="g59"><stop offset="0.0000" stop-color="#0fb6c8"/><stop offset="0.0209" stop-color="#37c699"/><stop offset="0.0455" stop-color="#83c75b"/><stop offset="0.0569" stop-color="#a1c34c"/><stop offset="0.0721" stop-color="#bcc14a"/><stop offset="0.0911" stop-color="#c8c744"/><stop offset="0.1594" stop-color="#cbd43d"/><stop offset="0.8520" stop-color="#ccd33e"/><stop offset="0.9108" stop-color="#c7c644"/><stop offset="0.9298" stop-color="#b9c14b"/><stop offset="0.9469" stop-color="#98c44f"/><stop offset="0.9602" stop-color="#71c867"/><stop offset="0.9791" stop-color="#37c699"/><stop offset="1.0000" stop-color="#0fb6c8"/></linearGradient><linearGradient id="g60"><stop offset="0.0000" stop-color="#18abd3"/><stop offset="0.0228" stop-color="#34b8b1"/><stop offset="0.0455" stop-color="#5cb78f"/><stop offset="0.0607" stop-color="#71b389"/><stop offset="0.0816" stop-color="#80b189"/><stop offset="0.1727" stop-color="#87ac89"/><stop offset="0.8729" stop-color="#86af88"/><stop offset="0.9241" stop-color="#7eb18a"/><stop offset="0.9450" stop-color="#6ab589"/><stop offset="0.9602" stop-color="#52b895"/><stop offset="0.9867" stop-color="#26b4c0"/><stop offset="1.0000" stop-color="#18abd3"/></linearGradient><linearGradient id="g61"><stop offset="0.0000" stop-color="#367bf5"/><stop offset="0.0398" stop-color="#327bee"/><stop offset="0.0949" stop-color="#3861e3"/><stop offset="0.1461" stop-color="#3b4ccf"/><stop offset="0.8539" stop-color="#3b4ccf"/><stop offset="0.9051" stop-color="#3861e3"/><stop offset="0.9602" stop-color="#327bee"/><stop offset="1.0000" stop-color="#367bf5"/></linearGradient><linearGradient id="g62"><stop offset="0.0000" stop-color="#4758f6"/><stop offset="0.0664" stop-color="#4744e7"/><stop offset="0.1347" stop-color="#412ebe"/><stop offset="0.1841" stop-color="#3f29b1"/><stop offset="0.3017" stop-color="#3e27ab"/><stop offset="0.7894" stop-color="#3f28ae"/><stop offset="0.8596" stop-color="#412dbb"/><stop offset="0.9260" stop-color="#4741e4"/><stop offset="0.9772" stop-color="#4752f3"/><stop offset="1.0000" stop-color="#4758f6"/></linearGradient><linearGradient id="g63"><stop offset="0.0000" stop-color="#484bee"/><stop offset="0.0835" stop-color="#4537d6"/><stop offset="0.1613" stop-color="#402bb6"/><stop offset="0.2429" stop-color="#3e27aa"/><stop offset="0.7780" stop-color="#3e27ab"/><stop offset="0.8539" stop-color="#412cba"/><stop offset="0.9545" stop-color="#4740e3"/><stop offset="1.0000" stop-color="#484bee"/></linearGradient><linearGradient id="g64"><stop offset="0.0000" stop-color="#4744e8"/><stop offset="0.0361" stop-color="#463de0"/><stop offset="0.1727" stop-color="#402ab3"/><stop offset="0.2732" stop-color="#3e27a9"/><stop offset="0.7742" stop-color="#3e27ab"/><stop offset="0.8596" stop-color="#412dbb"/><stop offset="0.9753" stop-color="#4741e4"/><stop offset="1.0000" stop-color="#4744e8"/></linearGradient><linearGradient id="g65"><stop offset="0.0000" stop-color="#473fe3"/><stop offset="0.0380" stop-color="#463cde"/><stop offset="0.1233" stop-color="#422ec0"/><stop offset="0.2239" stop-color="#3e28ac"/><stop offset="0.5275" stop-color="#3e26a8"/><stop offset="0.7799" stop-color="#3f28ad"/><stop offset="0.8805" stop-color="#422fc1"/><stop offset="0.9829" stop-color="#473fe3"/><stop offset="1.0000" stop-color="#473fe3"/></linearGradient><linearGradient id="g66"><stop offset="0.0000" stop-color="#463cde"/><stop offset="0.0493" stop-color="#4639da"/><stop offset="0.1214" stop-color="#422ebf"/><stop offset="0.2372" stop-color="#3e28ac"/><stop offset="0.6167" stop-color="#3e26a8"/><stop offset="0.7894" stop-color="#3f28af"/><stop offset="0.9051" stop-color="#4331c7"/><stop offset="0.9658" stop-color="#463cde"/><stop offset="1.0000" stop-color="#463cde"/></linearGradient><linearGradient id="g67"><stop offset="0.0000" stop-color="#463ada"/><stop offset="0.0645" stop-color="#4537d6"/><stop offset="0.1423" stop-color="#412dbb"/><stop offset="0.2676" stop-color="#3e27ab"/><stop offset="0.7249" stop-color="#3e27ab"/><stop offset="0.8520" stop-color="#412cba"/><stop offset="0.9184" stop-color="#4435d0"/><stop offset="0.9602" stop-color="#463ada"/><stop offset="1.0000" stop-color="#463ada"/></linearGradient><linearGradient id="g68"><stop offset="0.0000" stop-color="#4538d7"/><stop offset="0.0816" stop-color="#4536d3"/><stop offset="0.1803" stop-color="#402bb6"/><stop offset="0.3112" stop-color="#3e27aa"/><stop offset="0.7249" stop-color="#3e27ac"/><stop offset="0.8406" stop-color="#412cba"/><stop offset="0.9355" stop-color="#4537d6"/><stop offset="1.0000" stop-color="#4538d7"/></linearGradient><linearGradient id="g69"><stop offset="0.0000" stop-color="#4536d4"/><stop offset="0.1025" stop-color="#4435d0"/><stop offset="0.2353" stop-color="#3f29b2"/><stop offset="0.4023" stop-color="#3e27a9"/><stop offset="0.7116" stop-color="#3f28ad"/><stop offset="0.8235" stop-color="#412dbd"/><stop offset="0.9165" stop-color="#4536d3"/><stop offset="1.0000" stop-color="#4536d4"/></linearGradient><linearGradient id="g70"><stop offset="0.0000" stop-color="#4435d1"/><stop offset="0.1233" stop-color="#4434ce"/><stop offset="0.3093" stop-color="#3f29b2"/><stop offset="0.5484" stop-color="#3f28ad"/><stop offset="0.7306" stop-color="#402bb6"/><stop offset="0.9070" stop-color="#4435d0"/><stop offset="1.0000" stop-color="#4435d1"/></linearGradient><linearGradient id="g71"><stop offset="0.0000" stop-color="#4434cf"/><stop offset="0.1423" stop-color="#4433cc"/><stop offset="0.3928" stop-color="#402bb7"/><stop offset="0.6546" stop-color="#412cb9"/><stop offset="0.9374" stop-color="#4435d0"/><stop offset="1.0000" stop-color="#4434cf"/></linearGradient><linearGradient id="g72"><stop offset="0.0000" stop-color="#4433cd"/><stop offset="0.1613" stop-color="#4432cb"/><stop offset="0.4478" stop-color="#412dbd"/><stop offset="0.7040" stop-color="#422fc2"/><stop offset="0.9602" stop-color="#4434ce"/><stop offset="1.0000" stop-color="#4433cd"/></linearGradient><linearGradient id="g73"><stop offset="0.0000" stop-color="#4332cb"/><stop offset="0.1803" stop-color="#4332ca"/><stop offset="0.4801" stop-color="#422ebf"/><stop offset="0.7438" stop-color="#4331c6"/><stop offset="0.9715" stop-color="#4433cc"/><stop offset="1.0000" stop-color="#4332cb"/></linearGradient><linearGradient id="g74"><stop offset="0.0000" stop-color="#4332c9"/><stop offset="0.1992" stop-color="#4332c9"/><stop offset="0.5237" stop-color="#422fc2"/><stop offset="0.9677" stop-color="#4332ca"/><stop offset="1.0000" stop-color="#4332c9"/></linearGradient><linearGradient id="g75"><stop offset="0.0000" stop-color="#4331c7"/><stop offset="0.2239" stop-color="#4332c8"/><stop offset="0.6015" stop-color="#4230c4"/><stop offset="0.9620" stop-color="#4332c9"/><stop offset="1.0000" stop-color="#4331c7"/></linearGradient><linearGradient id="g76"><stop offset="0.0000" stop-color="#4230c4"/><stop offset="0.2638" stop-color="#4331c7"/><stop offset="0.8311" stop-color="#4331c8"/><stop offset="1.0000" stop-color="#4230c4"/></linearGradient><linearGradient id="g77"><stop offset="0.0000" stop-color="#422fc3"/><stop offset="0.3074" stop-color="#4331c7"/><stop offset="0.9734" stop-color="#4230c4"/><stop offset="1.0000" stop-color="#422fc3"/></linearGradient><linearGradient id="g78"><stop offset="0.0000" stop-color="#422fc0"/><stop offset="0.3472" stop-color="#4331c6"/><stop offset="0.9715" stop-color="#422fc2"/><stop offset="1.0000" stop-color="#422fc0"/></linearGradient><linearGradient id="g79"><stop offset="0.0000" stop-color="#412dbb"/><stop offset="0.3643" stop-color="#422fc1"/><stop offset="0.9753" stop-color="#412dbd"/><stop offset="1.0000" stop-color="#412dbb"/></linearGradient></defs><g shape-rendering="crispEdges"><rect x="59.30" y="297.00" width="527.70" height="4.34" fill="url(#g0)"/><rect x="59.30" y="300.99" width="527.70" height="5.34" fill="url(#g1)"/><rect x="59.30" y="305.98" width="527.70" height="45.24" fill="url(#g2)"/><rect x="59.30" y="350.87" width="527.70" height="20.30" fill="url(#g3)"/><rect x="59.30" y="370.82" width="527.70" height="14.32" fill="url(#g4)"/><rect x="59.30" y="384.78" width="527.70" height="10.33" fill="url(#g5)"/><rect x="59.30" y="394.76" width="527.70" height="8.33" fill="url(#g6)"/><rect x="59.30" y="402.74" width="527.70" height="6.34" fill="url(#g7)"/><rect x="59.30" y="408.73" width="527.70" height="5.34" fill="url(#g8)"/><rect x="59.30" y="413.71" width="527.70" height="4.34" fill="url(#g9)"/><rect x="59.30" y="417.70" width="527.70" height="4.34" fill="url(#g10)"/><rect x="59.30" y="421.69" width="527.70" height="3.34" fill="url(#g11)"/><rect x="59.30" y="424.69" width="527.70" height="3.34" fill="url(#g12)"/><rect x="59.30" y="427.68" width="527.70" height="3.34" fill="url(#g13)"/><rect x="59.30" y="430.67" width="527.70" height="2.35" fill="url(#g14)"/><rect x="59.30" y="432.67" width="527.70" height="2.35" fill="url(#g15)"/><rect x="59.30" y="434.66" width="527.70" height="2.35" fill="url(#g16)"/><rect x="59.30" y="436.66" width="527.70" height="2.35" fill="url(#g17)"/><rect x="59.30" y="438.65" width="527.70" height="1.35" fill="url(#g18)"/><rect x="59.30" y="439.65" width="527.70" height="1.35" fill="url(#g19)"/><rect x="59.30" y="440.65" width="527.70" height="1.35" fill="url(#g20)"/><rect x="59.30" y="441.64" width="527.70" height="1.35" fill="url(#g21)"/><rect x="59.30" y="442.64" width="527.70" height="1.35" fill="url(#g22)"/><rect x="59.30" y="443.64" width="527.70" height="1.35" fill="url(#g23)"/><rect x="59.30" y="444.64" width="527.70" height="1.35" fill="url(#g24)"/><rect x="59.30" y="445.63" width="527.70" height="1.35" fill="url(#g25)"/><rect x="59.30" y="446.63" width="527.70" height="1.35" fill="url(#g26)"/><rect x="59.30" y="447.63" width="527.70" height="1.35" fill="url(#g27)"/><rect x="59.30" y="448.63" width="527.70" height="1.35" fill="url(#g28)"/><rect x="59.30" y="449.62" width="527.70" height="1.35" fill="url(#g29)"/><rect x="59.30" y="450.62" width="527.70" height="1.35" fill="url(#g30)"/><rect x="59.30" y="451.62" width="527.70" height="1.35" fill="url(#g31)"/><rect x="59.30" y="452.62" width="527.70" height="1.35" fill="url(#g32)"/><rect x="59.30" y="453.62" width="527.70" height="1.35" fill="url(#g33)"/><rect x="59.30" y="454.61" width="527.70" height="1.35" fill="url(#g34)"/><rect x="59.30" y="455.61" width="527.70" height="1.35" fill="url(#g35)"/><rect x="59.30" y="456.61" width="527.70" height="1.35" fill="url(#g36)"/><rect x="59.30" y="457.61" width="527.70" height="1.35" fill="url(#g37)"/><rect x="59.30" y="458.60" width="527.70" height="1.35" fill="url(#g38)"/><rect x="59.30" y="459.60" width="527.70" height="1.35" fill="url(#g39)"/><rect x="59.30" y="460.60" width="527.70" height="1.35" fill="url(#g40)"/><rect x="59.30" y="461.60" width="527.70" height="1.35" fill="url(#g41)"/><rect x="59.30" y="462.59" width="527.70" height="1.35" fill="url(#g42)"/><rect x="59.30" y="463.59" width="527.70" height="1.35" fill="url(#g43)"/><rect x="59.30" y="464.59" width="527.70" height="1.35" fill="url(#g44)"/><rect x="59.30" y="465.59" width="527.70" height="1.35" fill="url(#g45)"/><rect x="59.30" y="466.58" width="527.70" height="1.35" fill="url(#g46)"/><rect x="59.30" y="467.58" width="527.70" height="1.35" fill="url(#g47)"/><rect x="59.30" y="468.58" width="527.70" height="1.35" fill="url(#g48)"/><rect x="59.30" y="469.58" width="527.70" height="1.35" fill="url(#g49)"/><rect x="59.30" y="470.57" width="527.70" height="1.35" fill="url(#g50)"/><rect x="59.30" y="471.57" width="527.70" height="1.35" fill="url(#g51)"/><rect x="59.30" y="472.57" width="527.70" height="1.35" fill="url(#g52)"/><rect x="59.30" y="473.57" width="527.70" height="1.35" fill="url(#g53)"/><rect x="59.30" y="474.56" width="527.70" height="1.35" fill="url(#g54)"/><rect x="59.30" y="475.56" width="527.70" height="1.35" fill="url(#g55)"/><rect x="59.30" y="476.56" width="527.70" height="1.35" fill="url(#g56)"/><rect x="59.30" y="477.56" width="527.70" height="1.35" fill="url(#g57)"/><rect x="59.30" y="478.55" width="527.70" height="1.35" fill="url(#g58)"/><rect x="59.30" y="479.55" width="527.70" height="1.35" fill="url(#g59)"/><rect x="59.30" y="480.55" width="527.70" height="1.35" fill="url(#g60)"/><rect x="59.30" y="481.55" width="527.70" height="1.35" fill="url(#g61)"/><rect x="59.30" y="482.54" width="527.70" height="1.35" fill="url(#g62)"/><rect x="59.30" y="483.54" width="527.70" height="1.35" fill="url(#g63)"/><rect x="59.30" y="484.54" width="527.70" height="1.35" fill="url(#g64)"/><rect x="59.30" y="485.54" width="527.70" height="1.35" fill="url(#g65)"/><rect x="59.30" y="486.53" width="527.70" height="1.35" fill="url(#g66)"/><rect x="59.30" y="487.53" width="527.70" height="1.35" fill="url(#g67)"/><rect x="59.30" y="488.53" width="527.70" height="1.35" fill="url(#g68)"/><rect x="59.30" y="489.53" width="527.70" height="1.35" fill="url(#g69)"/><rect x="59.30" y="490.52" width="527.70" height="1.35" fill="url(#g70)"/><rect x="59.30" y="491.52" width="527.70" height="1.35" fill="url(#g71)"/><rect x="59.30" y="492.52" width="527.70" height="1.35" fill="url(#g72)"/><rect x="59.30" y="493.52" width="527.70" height="1.35" fill="url(#g73)"/><rect x="59.30" y="494.51" width="527.70" height="1.35" fill="url(#g74)"/><rect x="59.30" y="495.51" width="527.70" height="1.35" fill="url(#g75)"/><rect x="59.30" y="496.51" width="527.70" height="1.35" fill="url(#g76)"/><rect x="59.30" y="497.51" width="527.70" height="1.35" fill="url(#g77)"/><rect x="59.30" y="498.50" width="527.70" height="1.35" fill="url(#g78)"/><rect x="59.30" y="499.50" width="527.70" height="1.35" fill="url(#g79)"/></g><defs><pattern id="tx" width="11" height="7" patternUnits="userSpaceOnUse" x="59" y="489.5"><path d="M0.3 1.75L2.75 0.3L5.2 1.75L2.75 3.2ZM5.8 5.25L8.25 3.8L10.7 5.25L8.25 6.7Z" fill="#5a52ee"/><path d="M5.8 1.75L8.25 0.3L10.7 1.75L8.25 3.2ZM0.3 5.25L2.75 3.8L5.2 5.25L2.75 6.7Z" fill="#3418a0"/></pattern><filter id="txb" x="0" y="-0.2" width="1" height="1.4"><feGaussianBlur stdDeviation="0.7"/></filter></defs><rect x="59.8" y="489.5" width="526.7" height="8.5" fill="url(#tx)" opacity="0.2" filter="url(#txb)"/>
<path d="M121.68 213.90v-6.2M121.68 11.80v6.2M183.96 213.90v-6.2M183.96 11.80v6.2M246.24 213.90v-6.2M246.24 11.80v6.2M308.52 213.90v-6.2M308.52 11.80v6.2M370.80 213.90v-6.2M370.80 11.80v6.2M433.08 213.90v-6.2M433.08 11.80v6.2M495.36 213.90v-6.2M495.36 11.80v6.2M557.64 213.90v-6.2M557.64 11.80v6.2M619.92 213.90v-6.2M619.92 11.80v6.2M59.40 163.38h6.2M682.20 163.38h-6.2M59.40 112.85h6.2M682.20 112.85h-6.2M59.40 62.33h6.2M682.20 62.33h-6.2" stroke="#3c3c3c" stroke-width="1.1" fill="none"/>
<rect x="59.40" y="11.80" width="622.80" height="202.10" fill="none" stroke="#3c3c3c" stroke-width="1.1"/>
<text class="t" x="58.9" y="237.7" font-size="17.2" text-anchor="middle">0</text>
<text class="t" x="120.5" y="237.7" font-size="17.2" text-anchor="middle">0.1</text>
<text class="t" x="182.8" y="237.7" font-size="17.2" text-anchor="middle">0.2</text>
<text class="t" x="245.0" y="237.7" font-size="17.2" text-anchor="middle">0.3</text>
<text class="t" x="307.3" y="237.7" font-size="17.2" text-anchor="middle">0.4</text>
<text class="t" x="369.6" y="237.7" font-size="17.2" text-anchor="middle">0.5</text>
<text class="t" x="431.9" y="237.7" font-size="17.2" text-anchor="middle">0.6</text>
<text class="t" x="494.2" y="237.7" font-size="17.2" text-anchor="middle">0.7</text>
<text class="t" x="556.4" y="237.7" font-size="17.2" text-anchor="middle">0.8</text>
<text class="t" x="618.7" y="237.7" font-size="17.2" text-anchor="middle">0.9</text>
<text class="t" x="681.0" y="237.7" font-size="17.2" text-anchor="middle">1</text>
<text class="t" x="52.1" y="220.4" font-size="17.2" text-anchor="end">-2</text>
<text class="t" x="52.1" y="169.9" font-size="17.2" text-anchor="end">-1</text>
<text class="t" x="52.1" y="119.4" font-size="17.2" text-anchor="end">0</text>
<text class="t" x="52.1" y="68.8" font-size="17.2" text-anchor="end">1</text>
<text class="t" x="52.1" y="18.3" font-size="17.2" text-anchor="end">2</text>
<text class="t" x="370.2" y="261.4" font-size="18.8" text-anchor="middle">Time (s)</text>
<text class="t" transform="translate(28.3 112.9) rotate(-90)" font-size="18.8" text-anchor="middle">Amplitude</text>
<text class="p" transform="translate(5.2 15.3) scale(0.92 1)" font-size="21.6" letter-spacing="0.4" stroke="#111" stroke-width="0.3">(a)</text>
<path d="M164.84 500.50v-6.2M164.84 297.00v6.2M270.38 500.50v-6.2M270.38 297.00v6.2M375.92 500.50v-6.2M375.92 297.00v6.2M481.46 500.50v-6.2M481.46 297.00v6.2M59.30 460.00h6.2M587.00 460.00h-6.2M59.30 419.30h6.2M587.00 419.30h-6.2M59.30 378.60h6.2M587.00 378.60h-6.2M59.30 337.90h6.2M587.00 337.90h-6.2" stroke="#2a2a2a" stroke-width="1.1" fill="none"/>
<rect x="59.30" y="297.00" width="527.70" height="203.50" fill="none" stroke="#2a2a2a" stroke-width="1.1"/>
<text class="t" x="58.8" y="524.2" font-size="17.2" text-anchor="middle">0</text>
<text class="t" x="163.8" y="524.2" font-size="17.2" text-anchor="middle">0.2</text>
<text class="t" x="269.4" y="524.2" font-size="17.2" text-anchor="middle">0.4</text>
<text class="t" x="374.9" y="524.2" font-size="17.2" text-anchor="middle">0.6</text>
<text class="t" x="480.5" y="524.2" font-size="17.2" text-anchor="middle">0.8</text>
<text class="t" x="586.0" y="524.2" font-size="17.2" text-anchor="middle">1</text>
<text class="t" x="52.1" y="466.5" font-size="17.2" text-anchor="end">100</text>
<text class="t" x="52.1" y="425.8" font-size="17.2" text-anchor="end">200</text>
<text class="t" x="52.1" y="385.1" font-size="17.2" text-anchor="end">300</text>
<text class="t" x="52.1" y="344.4" font-size="17.2" text-anchor="end">400</text>
<text class="t" x="52.1" y="303.7" font-size="17.2" text-anchor="end">500</text>
<text class="t" x="322.5" y="547.4" font-size="18.8" text-anchor="middle">Time (s)</text>
<text class="t" transform="translate(15.2 398.8) rotate(-90)" font-size="18.8" text-anchor="middle">Frequency(Hz)</text>
<text class="p" transform="translate(5.2 284.8) scale(0.92 1)" font-size="21.6" letter-spacing="0.4" stroke="#111" stroke-width="0.3">(b)</text>
<defs><linearGradient id="cb" x1="0" y1="1" x2="0" y2="0"><stop offset="0.0000" stop-color="#3e26a8"/><stop offset="0.0159" stop-color="#402ab4"/><stop offset="0.0317" stop-color="#422ec0"/><stop offset="0.0476" stop-color="#4332cb"/><stop offset="0.0635" stop-color="#4537d5"/><stop offset="0.0794" stop-color="#463cde"/><stop offset="0.0952" stop-color="#4741e5"/><stop offset="0.1111" stop-color="#4747eb"/><stop offset="0.1270" stop-color="#484df0"/><stop offset="0.1429" stop-color="#4852f4"/><stop offset="0.1587" stop-color="#4758f8"/><stop offset="0.1746" stop-color="#465efb"/><stop offset="0.1905" stop-color="#4563fd"/><stop offset="0.2063" stop-color="#4269fe"/><stop offset="0.2222" stop-color="#3e6fff"/><stop offset="0.2381" stop-color="#3875fe"/><stop offset="0.2540" stop-color="#327cfc"/><stop offset="0.2698" stop-color="#2f81fa"/><stop offset="0.2857" stop-color="#2e87f7"/><stop offset="0.3016" stop-color="#2d8cf3"/><stop offset="0.3175" stop-color="#2b91ef"/><stop offset="0.3333" stop-color="#2797eb"/><stop offset="0.3492" stop-color="#259be8"/><stop offset="0.3651" stop-color="#23a0e5"/><stop offset="0.3810" stop-color="#20a5e3"/><stop offset="0.3968" stop-color="#1ca9df"/><stop offset="0.4127" stop-color="#18addb"/><stop offset="0.4286" stop-color="#12b1d6"/><stop offset="0.4444" stop-color="#08b5d0"/><stop offset="0.4603" stop-color="#01b8ca"/><stop offset="0.4762" stop-color="#02bac3"/><stop offset="0.4921" stop-color="#0bbdbd"/><stop offset="0.5079" stop-color="#19bfb6"/><stop offset="0.5238" stop-color="#24c1ae"/><stop offset="0.5397" stop-color="#2cc4a7"/><stop offset="0.5556" stop-color="#31c69f"/><stop offset="0.5714" stop-color="#37c897"/><stop offset="0.5873" stop-color="#3fca8e"/><stop offset="0.6032" stop-color="#4acb84"/><stop offset="0.6190" stop-color="#57cc7a"/><stop offset="0.6349" stop-color="#64cd6f"/><stop offset="0.6508" stop-color="#72cd64"/><stop offset="0.6667" stop-color="#81cc59"/><stop offset="0.6825" stop-color="#8fcb4e"/><stop offset="0.6984" stop-color="#9dc943"/><stop offset="0.7143" stop-color="#abc739"/><stop offset="0.7302" stop-color="#b9c431"/><stop offset="0.7460" stop-color="#c5c22a"/><stop offset="0.7619" stop-color="#d1bf27"/><stop offset="0.7778" stop-color="#dcbd29"/><stop offset="0.7937" stop-color="#e6bb2d"/><stop offset="0.8095" stop-color="#f0ba36"/><stop offset="0.8254" stop-color="#f8ba3d"/><stop offset="0.8413" stop-color="#febe3c"/><stop offset="0.8571" stop-color="#fec338"/><stop offset="0.8730" stop-color="#fec934"/><stop offset="0.8889" stop-color="#fccf30"/><stop offset="0.9048" stop-color="#fad62d"/><stop offset="0.9206" stop-color="#f7dc2a"/><stop offset="0.9365" stop-color="#f5e327"/><stop offset="0.9524" stop-color="#f5e924"/><stop offset="0.9683" stop-color="#f6ef20"/><stop offset="0.9841" stop-color="#f7f51b"/><stop offset="1.0000" stop-color="#f9fb15"/></linearGradient></defs>
<rect x="613.0" y="296.8" width="31.0" height="204.2" fill="url(#cb)" stroke="#2a2a2a" stroke-width="1.1"/>
<text class="t" x="650.3" y="451.4" font-size="17.2">1</text>
<text class="t" x="650.3" y="394.7" font-size="17.2">2</text>
<text class="t" x="650.3" y="337.9" font-size="17.2">3</text>
<path d="M644.0 444.48h-3M644.0 387.76h-3M644.0 331.04h-3" stroke="#2a2a2a" stroke-width="1.1" fill="none"/>
</svg></body></html>
